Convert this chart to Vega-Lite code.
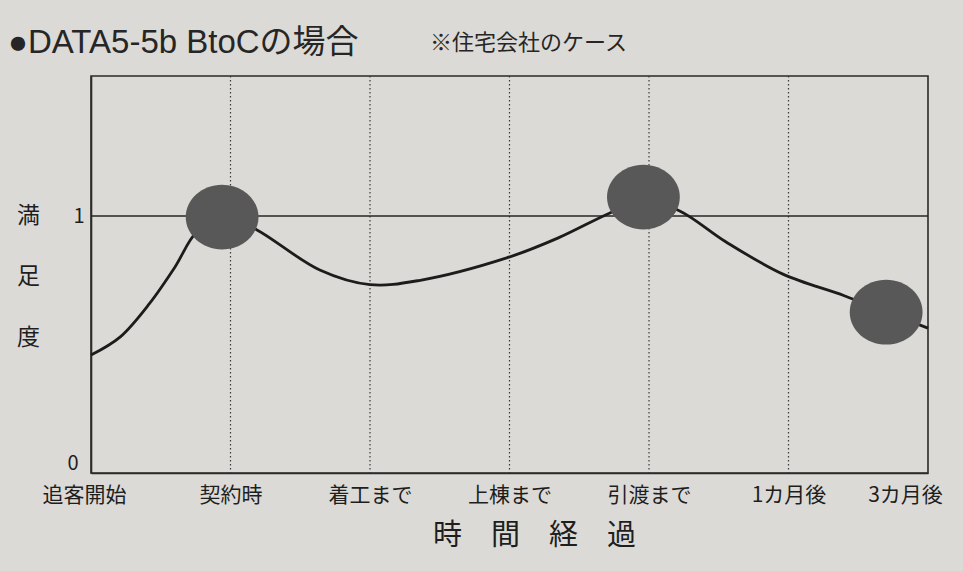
{
  "$schema": "https://vega.github.io/schema/vega-lite/v6.json",
  "autosize": "none",
  "width": 837,
  "height": 397,
  "padding": {"left": 91, "top": 76, "right": 35, "bottom": 98},
  "background": "#dcdad6",
  "config": {
    "view": {"stroke": "#2a2a2a", "strokeWidth": 1.6},
    "font": "Noto Sans CJK JP"
  },
  "datasets": {
    "stages": [{"x": 1}, {"x": 2}, {"x": 3}, {"x": 4}, {"x": 5}],
    "curve": [
      {"t": 0.0, "v": 0.459},
      {"t": 0.21, "v": 0.53},
      {"t": 0.42, "v": 0.66},
      {"t": 0.6, "v": 0.8},
      {"t": 0.76, "v": 0.94},
      {"t": 0.96, "v": 1.0},
      {"t": 1.19, "v": 0.946},
      {"t": 1.64, "v": 0.79},
      {"t": 2.0, "v": 0.733},
      {"t": 2.36, "v": 0.75},
      {"t": 2.98, "v": 0.837},
      {"t": 3.35, "v": 0.915},
      {"t": 3.72, "v": 1.012},
      {"t": 3.96, "v": 1.062},
      {"t": 4.22, "v": 1.02},
      {"t": 4.55, "v": 0.9},
      {"t": 4.96, "v": 0.774},
      {"t": 5.4, "v": 0.69},
      {"t": 5.7, "v": 0.626},
      {"t": 6.0, "v": 0.564}
    ],
    "markers": [
      {"t": 0.94, "v": 0.996},
      {"t": 3.96, "v": 1.074},
      {"t": 5.7, "v": 0.626}
    ],
    "heading": [{"label": "●DATA5-5b BtoCの場合"}],
    "notes": [{"note": "※住宅会社のケース"}],
    "reference": [{"level": 1}]
  },
  "layer": [
    {
      "data": {"name": "stages"},
      "mark": {"type": "rule", "color": "#3a3a3a", "strokeWidth": 1.2, "strokeDash": [1.5, 2.5]},
      "encoding": {
        "x": {
          "field": "x",
          "type": "quantitative",
          "scale": {"domain": [0, 6], "nice": false, "zero": false},
          "axis": {
            "values": [0, 1, 2, 3, 4, 5, 6],
            "labelExpr": "['追客開始','契約時','着工まで','上棟まで','引渡まで','1カ月後','3カ月後'][datum.value]",
            "labelFontSize": 21,
            "labelColor": "#1e1e1e",
            "labelPadding": 11,
            "labelOffset": {"condition": [{"test": "datum.value === 6", "value": -23}, {"test": "datum.value === 0", "value": -7}], "value": 0},
            "labelFlush": false,
            "labelOverlap": false,
            "labelBound": false,
            "ticks": false,
            "grid": false,
            "domain": true,
            "domainColor": "#2a2a2a",
            "domainWidth": 1.6,
            "title": "時　間　経　過",
            "titleFontSize": 29,
            "titleFontWeight": "normal",
            "titleColor": "#1e1e1e",
            "titleX": 443,
            "titleY": 62,
            "titleBaseline": "middle"
          }
        }
      }
    },
    {
      "data": {"name": "reference"},
      "mark": {"type": "rule", "color": "#262626", "strokeWidth": 1.6},
      "encoding": {
        "y": {
          "field": "level",
          "type": "quantitative",
          "scale": {"domain": [0, 1.545], "nice": false, "zero": false},
          "axis": {
            "values": [0, 1],
            "format": "d",
            "labelFontSize": 20,
            "labelColor": "#1e1e1e",
            "labelBaseline": {"condition": {"test": "datum.value === 0", "value": "bottom"}, "value": "middle"},
            "labelPadding": {"condition": {"test": "datum.value === 0", "value": 13}, "value": 7},
            "ticks": false,
            "grid": false,
            "domain": true,
            "domainColor": "#2a2a2a",
            "domainWidth": 1.6,
            "title": ["満", "足", "度"],
            "titleFontSize": 23,
            "titleFontWeight": "normal",
            "titleColor": "#1e1e1e",
            "titleAngle": 0,
            "titleAlign": "center",
            "titleBaseline": "middle",
            "titleLineHeight": 61,
            "titleX": -63,
            "titleY": 139
          }
        }
      }
    },
    {
      "data": {"name": "curve"},
      "mark": {"type": "line", "interpolate": "catmull-rom", "color": "#1c1c1c", "strokeWidth": 2.8},
      "encoding": {
        "x": {"field": "t", "type": "quantitative"},
        "y": {"field": "v", "type": "quantitative"}
      }
    },
    {
      "data": {"name": "markers"},
      "mark": {
        "type": "point",
        "shape": "M -1 0 A 1 0.89 0 1 0 1 0 A 1 0.89 0 1 0 -1 0 Z",
        "filled": true,
        "color": "#585858",
        "opacity": 1,
        "size": 5300
      },
      "encoding": {
        "x": {"field": "t", "type": "quantitative"},
        "y": {"field": "v", "type": "quantitative"}
      }
    },
    {
      "data": {"name": "heading"},
      "mark": {
        "type": "text",
        "font": "Liberation Sans, Noto Sans CJK JP",
        "fontSize": 33,
        "color": "#262626",
        "align": "left",
        "baseline": "middle"
      },
      "encoding": {
        "x": {"datum": -0.595, "type": "quantitative"},
        "y": {"datum": 1.673, "type": "quantitative"},
        "text": {"field": "label"}
      }
    },
    {
      "data": {"name": "notes"},
      "mark": {
        "type": "text",
        "fontSize": 22,
        "color": "#262626",
        "align": "left",
        "baseline": "middle"
      },
      "encoding": {
        "x": {"datum": 2.43, "type": "quantitative"},
        "y": {"datum": 1.673, "type": "quantitative"},
        "text": {"field": "note"}
      }
    }
  ]
}
